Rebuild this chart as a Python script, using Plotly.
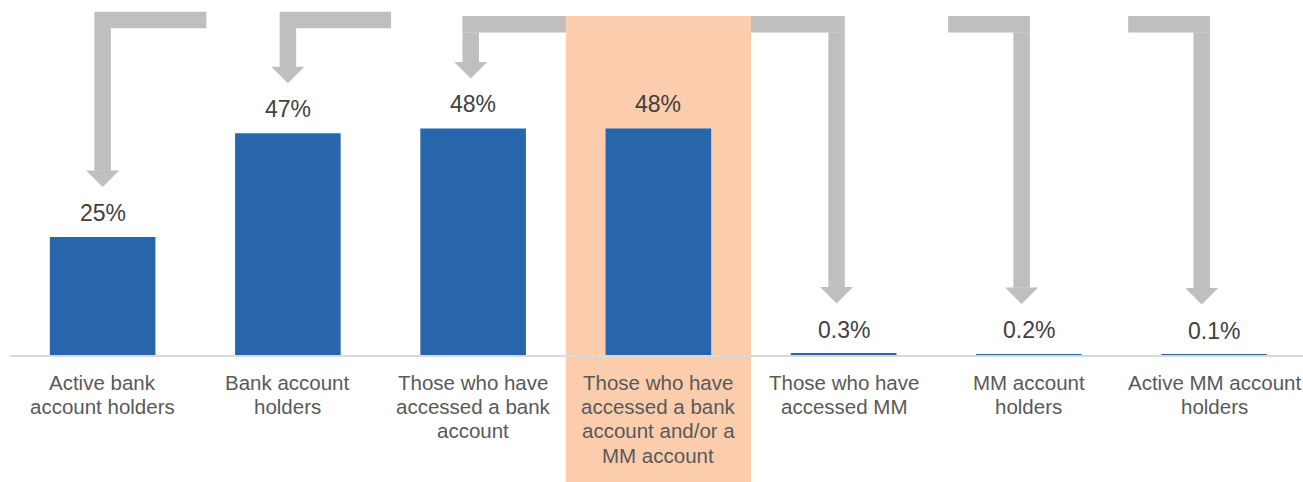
import plotly.graph_objects as go

# Share of population by account type
categories = [
    "Active bank account holders",
    "Bank account holders",
    "Those who have accessed a bank account",
    "Those who have accessed a bank account and/or a MM account",
    "Those who have accessed MM",
    "MM account holders",
    "Active MM account holders",
]
label_lines = [
    ["Active bank", "account holders"],
    ["Bank account", "holders"],
    ["Those who have", "accessed a bank", "account"],
    ["Those who have", "accessed a bank", "account and/or a", "MM account"],
    ["Those who have", "accessed MM"],
    ["MM account", "holders"],
    ["Active MM account", "holders"],
]
values = [25, 47, 48, 48, 0.3, 0.2, 0.1]
value_labels = ["25%", "47%", "48%", "48%", "0.3%", "0.2%", "0.1%"]
highlight_index = 3

BAR_COLOR = "#2866AB"
ARROW_COLOR = "#BFBFBF"
HIGHLIGHT_COLOR = "#FBCDAD"
VALUE_COLOR = "#404040"
LABEL_COLOR = "#595959"
FONT = "Liberation Sans, Arial, sans-serif"

# pixel geometry of the plot area
PX_PER_CAT = 185.25
PX_PER_UNIT = 4.72
PLOT_W = 1293
PLOT_H = 355
Y_MAX = PLOT_H / PX_PER_UNIT
X_MIN = -0.5
X_MAX = X_MIN + PLOT_W / PX_PER_CAT

# elbow connectors: shaft positions (category index + shift), far end of the top bar
connectors = [
    dict(targets=[0], shift=[0.0], bar_to=0.56, top=72.7),
    dict(targets=[1], shift=[0.0], bar_to=1.557, top=72.7),
    dict(targets=[2, 4], shift=[-0.013, -0.038], bar_to=None, top=71.8),
    dict(targets=[5], shift=[-0.039], bar_to=4.564, top=71.8),
    dict(targets=[6], shift=[-0.067], bar_to=5.536, top=71.8),
]

THICK_X = 16.5 / PX_PER_CAT      # shaft thickness in category units
THICK_Y = 16.5 / PX_PER_UNIT     # top bar thickness in value units
HEAD_HALF = 16.5 / PX_PER_CAT
HEAD_H = 16.5 / PX_PER_UNIT
TIP_GAP = 50 / PX_PER_UNIT       # distance from bar top to arrow tip


def py(v):
    """value units -> paper fraction (keeps every decoration in the same shape layer)"""
    return v / Y_MAX


shapes = []


def add_rect(x0, x1, y0, y1):
    shapes.append(dict(type="rect", xref="x", yref="paper", x0=x0, x1=x1, y0=py(y0), y1=py(y1),
                       fillcolor=ARROW_COLOR, line=dict(width=0), layer="below"))


for c in connectors:
    xs = [t + s for t, s in zip(c["targets"], c["shift"])]
    top = c["top"]
    left = min(xs) - THICK_X / 2
    right = max(xs) + THICK_X / 2
    if c["bar_to"] is not None:
        left = min(left, c["bar_to"])
        right = max(right, c["bar_to"])
    add_rect(left, right, top - THICK_Y, top)
    for t, xc in zip(c["targets"], xs):
        tip = values[t] + TIP_GAP
        add_rect(xc - THICK_X / 2, xc + THICK_X / 2, tip + HEAD_H - 0.05, top - THICK_Y + 0.05)
        path = (f"M {xc - HEAD_HALF},{py(tip + HEAD_H)} L {xc + HEAD_HALF},{py(tip + HEAD_H)} "
                f"L {xc},{py(tip)} Z")
        shapes.append(dict(type="path", xref="x", yref="paper", path=path,
                           fillcolor=ARROW_COLOR, line=dict(width=0), layer="below"))

# highlighted category column, drawn over the connectors
shapes.append(dict(type="rect", xref="x", yref="paper",
                   x0=highlight_index - 0.5, x1=highlight_index + 0.5,
                   y0=-0.4, y1=(PLOT_H - 16) / PLOT_H,
                   fillcolor=HIGHLIGHT_COLOR, line=dict(width=0), layer="below"))

fig = go.Figure()
fig.add_trace(go.Bar(
    x=list(range(len(categories))), y=values, width=0.57,
    marker=dict(color=BAR_COLOR, line=dict(width=0)),
    hovertext=categories, hoverinfo="text+y",
))

annotations = []
for i, (v, lab) in enumerate(zip(values, value_labels)):
    annotations.append(dict(x=i, y=v, xref="x", yref="y", text=lab, showarrow=False,
                            yanchor="middle", yshift=24,
                            font=dict(family=FONT, size=23, color=VALUE_COLOR)))
for i, lines in enumerate(label_lines):
    for j, line in enumerate(lines):
        annotations.append(dict(x=i, y=0, xref="x", yref="paper", text=line, showarrow=False,
                                yanchor="middle", yshift=-(27 + j * 24.4),
                                font=dict(family=FONT, size=20.5, color=LABEL_COLOR)))

fig.update_layout(
    width=1303, height=482,
    margin=dict(l=10, r=0, t=0, b=127),
    plot_bgcolor="white", paper_bgcolor="white",
    showlegend=False,
    shapes=shapes,
    annotations=annotations,
    xaxis=dict(range=[X_MIN, X_MAX], showticklabels=False, showgrid=False, zeroline=False,
               showline=True, linecolor="#D9D9D9", linewidth=2, ticks=""),
    yaxis=dict(range=[0, Y_MAX], visible=False, showgrid=False, zeroline=False),
)

fig.write_html("out.html")
